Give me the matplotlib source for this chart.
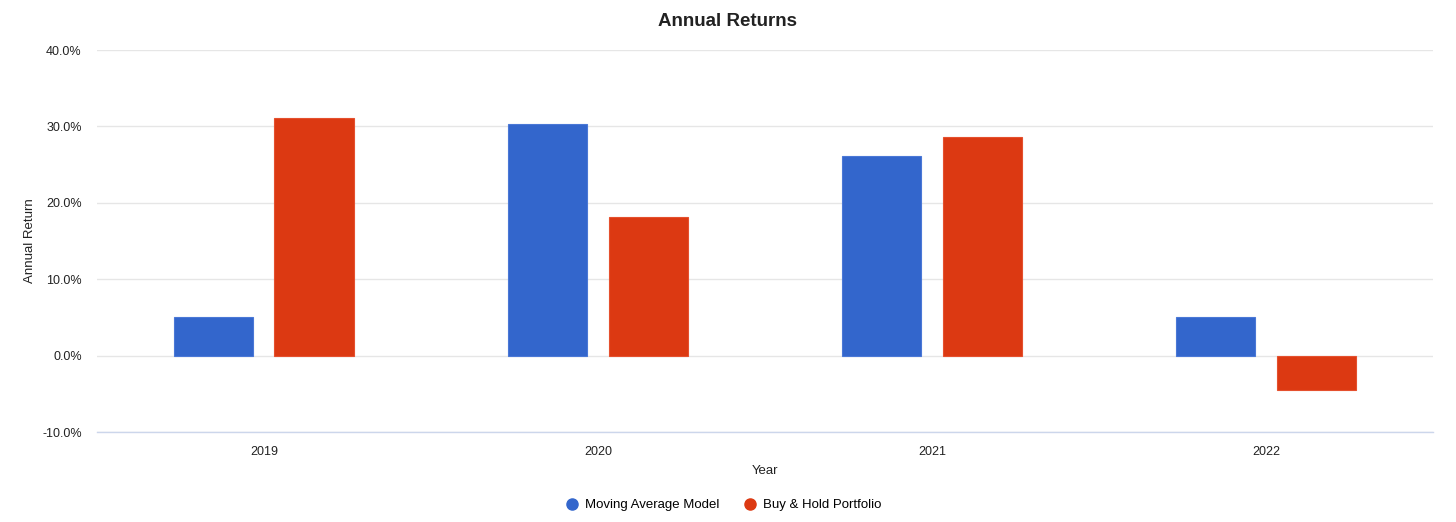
import numpy as np
import matplotlib.pyplot as plt
from matplotlib.lines import Line2D
from matplotlib.ticker import FuncFormatter

plt.rcParams['font.family'] = ['Liberation Sans', 'DejaVu Sans']

years = ['2019', '2020', '2021', '2022']
moving_average = [5.0, 30.3, 26.1, 5.0]
buy_and_hold = [31.1, 18.2, 28.6, -4.5]
y_ticks = [-10, 0, 10, 20, 30, 40]

BLUE = '#3366cc'
RED = '#dc3912'

def plot_returns():
    fig = plt.figure(figsize=(14.56, 5.22), dpi=100)
    ax = fig.add_axes([0.0666, 0.1724, 0.9176, 0.7318])

    x = np.arange(len(years))
    width = 0.237
    ax.bar(x - 0.15, moving_average, width, color=BLUE, edgecolor='#4a78d6',
           linewidth=0.8, zorder=3)
    ax.bar(x + 0.15, buy_and_hold, width, color=RED, edgecolor='#e5502e',
           linewidth=0.8, zorder=3)

    ax.set_xlim(-0.5, len(years) - 0.5)
    ax.set_ylim(-10, 40)
    ax.set_yticks(y_ticks)
    ax.yaxis.set_major_formatter(FuncFormatter(lambda v, p: f'{v:.1f}%'))
    ax.set_xticks(x)
    ax.set_xticklabels(years)

    ax.grid(axis='y', color='#e6e6e6', linewidth=1, zorder=0)
    for s in ['top', 'right', 'left']:
        ax.spines[s].set_visible(False)
    ax.spines['bottom'].set_color('#ccd6eb')
    ax.spines['bottom'].set_linewidth(1)
    ax.tick_params(axis='both', length=0, labelsize=9, colors='#222222')
    ax.tick_params(axis='y', pad=11)
    ax.tick_params(axis='x', pad=10)

    ax.set_xlabel('Year', fontsize=9.5, color='#222222')
    ax.xaxis.set_label_coords(0.5, -0.087)
    ax.set_ylabel('Annual Return', fontsize=9.5, color='#222222')
    ax.yaxis.set_label_coords(-0.0457, 0.5)
    fig.suptitle('Annual Returns', fontsize=13.5, fontweight='bold', color='#222222', y=0.976)

    handles = [
        Line2D([], [], marker='o', linestyle='', markersize=8, color=BLUE),
        Line2D([], [], marker='o', linestyle='', markersize=8, color=RED),
    ]
    fig.legend(handles, ['Moving Average Model', 'Buy & Hold Portfolio'],
               loc='center', bbox_to_anchor=(0.497, 0.032), ncol=2, frameon=False,
               fontsize=9.5, handletextpad=0.5, columnspacing=1.8, handlelength=1.0)

    fig.savefig('out.png', dpi=100)

def main():
    plot_returns()

if __name__ == "__main__":
    main()
